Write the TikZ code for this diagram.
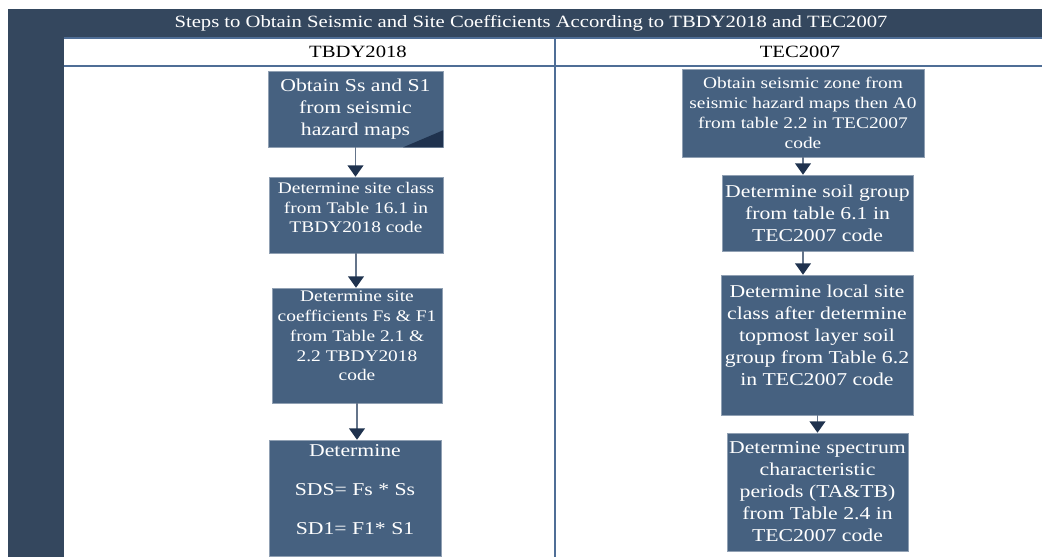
\documentclass[tikz,border=0pt]{standalone}
\usepackage{fontspec}
\setmainfont[FakeStretch=1.2]{Liberation Serif}
\usepackage{tikz}
\usetikzlibrary{arrows.meta,positioning}
\usepackage{xcolor}
\definecolor{sbband}{RGB}{52,71,94}
\definecolor{sbbox}{RGB}{70,97,128}
\definecolor{sbtip}{RGB}{31,50,78}
\definecolor{sbshaft}{RGB}{100,116,138}
\definecolor{sbline}{RGB}{79,110,150}
\tikzstyle{arrow} = [line width=0.85pt,color=sbshaft,-{Triangle[width=9pt,length=6.5pt,color=sbtip]}]

\begin{document}
\begin{tikzpicture}[x=0.02cm, y=-0.02cm,
    stepbig/.style={rectangle, draw=sbbox!60!white, line width=0.3pt, fill=sbbox, text=white, inner sep=0pt, align=center, font=\fontsize{10.3}{12.5}\selectfont},
    stepsmall/.style={stepbig, font=\fontsize{9.2}{11.3}\selectfont},
    header/.style={inner sep=0pt, font=\fontsize{9.8}{11}\selectfont}]

\useasboundingbox (0,0) rectangle (1042,557);

% Table frame
\fill[sbband] (8,9) rectangle (1042,38);
\fill[sbband] (8,38) rectangle (64,557);
\draw[sbline, line width=0.6pt] (64,38) -- (1042,38);
\draw[sbline, line width=0.6pt] (64,66) -- (1042,66);
\draw[sbline, line width=0.6pt] (555,38) -- (555,557);

% Headers
\node[header, text=white] (title) at (531,23) {Steps to Obtain Seismic and Site Coefficients According to TBDY2018 and TEC2007};
\node[header] (tbdy) at (358,52) {TBDY2018};
\node[header] (tec) at (800,52) {TEC2007};

% TBDY2018 column
\node[stepbig, minimum width=3.5cm, minimum height=1.52cm] (b1) at (355.5,109) {Obtain Ss and S1\\from seismic\\hazard maps};
\fill[sbtip] (b1.south east) -- ++(0,-17) -- ++(-40,17) -- cycle;
\node[stepsmall, minimum width=3.48cm, minimum height=1.52cm, text depth=8.5pt] (b2) at (356,215) {Determine site class\\from Table 16.1 in\\TBDY2018 code};
\node[stepsmall, minimum width=3.4cm, minimum height=2.3cm, text depth=11pt] (b3) at (357,345.5) {Determine site\\coefficients Fs \& F1\\from Table 2.1 \&\\2.2 TBDY2018\\code};
\node[stepbig, minimum width=3.44cm, minimum height=2.32cm, text depth=9.5pt] (b4) at (355,498) {Determine\\[9.5pt]SDS= Fs * Ss\\[9.5pt]SD1= F1* S1};

\draw[arrow] (b1.south) -- (b1.south |- b2.north);
\draw[arrow] (b2.south) -- (b2.south |- b3.north);
\draw[arrow] (b3.south) -- (b3.south |- b4.north);

% TEC2007 column
\node[stepsmall, minimum width=4.84cm, minimum height=1.76cm] (r1) at (803,113) {Obtain seismic zone from\\seismic hazard maps then A0\\from table 2.2 in TEC2007\\code};
\node[stepbig, minimum width=3.82cm, minimum height=1.52cm] (r2) at (817.5,213) {Determine soil group\\from table 6.1 in\\TEC2007 code};
\node[stepbig, minimum width=3.84cm, minimum height=2.8cm, text depth=11pt] (r3) at (817,345) {Determine local site\\class after determine\\topmost layer soil\\group from Table 6.2\\in TEC2007 code};
\node[stepbig, minimum width=3.62cm, minimum height=2.36cm] (r4) at (817.5,492) {Determine spectrum\\characteristic\\periods (TA\&TB)\\from Table 2.4 in\\TEC2007 code};

\draw[arrow] (r1.south) -- (r1.south |- r2.north);
\draw[arrow] (r2.south -| r1.south) -- (r1.south |- r3.north);
\draw[arrow] (r3.south -| r4.south) -- (r4.north);

\end{tikzpicture}
\end{document}
